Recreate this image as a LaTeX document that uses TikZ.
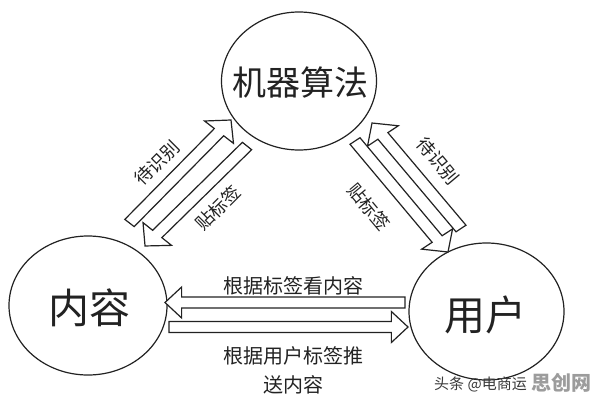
\documentclass[tikz,border=0pt]{standalone}
\usepackage{fontspec}
\setmainfont{Noto Sans CJK SC}
\usetikzlibrary{shapes.geometric}
\definecolor{ink}{HTML}{222222}
\definecolor{wmgray}{HTML}{9C9C9C}
\definecolor{wmdark}{HTML}{3A3A3A}
\newcommand\sx{1.13}
\newdimen\BAx \newdimen\BAy \newdimen\BBx \newdimen\BBy
% block arrow from coordinate #1 (tail) to coordinate #2 (tip), head half width #3
\newcommand\blockarrow[3]{%
  \pgfextractx{\BAx}{\pgfpointanchor{#1}{center}}%
  \pgfextracty{\BAy}{\pgfpointanchor{#1}{center}}%
  \pgfextractx{\BBx}{\pgfpointanchor{#2}{center}}%
  \pgfextracty{\BBy}{\pgfpointanchor{#2}{center}}%
  \pgfmathsetmacro\du{(\BBx-\BAx)/\sx}%
  \pgfmathsetmacro\dv{\BBy-\BAy}%
  \pgfmathsetmacro\ang{atan2(\dv,\du)}%
  \pgfmathsetmacro\len{veclen(\du,\dv)}%
  \pgfmathsetmacro\hl{0.95*#3}%
  \begin{scope}[shift={(#1)}, xscale=\sx, rotate=\ang]
    \draw[blockline] (0,-5.5) -- (\len-\hl,-5.5) -- (\len-\hl,-#3) -- (\len,0)
      -- (\len-\hl,#3) -- (\len-\hl,5.5) -- (0,5.5) -- cycle;
  \end{scope}}
\tikzset{
  bubble/.style={ellipse, draw=ink, line width=1.2pt, inner sep=0pt},
  blockline/.style={draw=ink, line width=1.2pt, fill=white, line join=miter},
  bigtext/.style={text=ink, inner sep=0pt},
  lbl/.style={text=ink, inner sep=0pt, font=\fontsize{18pt}{22pt}\selectfont},
  hlbl/.style={text=ink, inner sep=0pt, font=\fontsize{20pt}{29pt}\selectfont, align=center}
}
\begin{document}
\begin{tikzpicture}[x=1pt, y=-1pt]
\useasboundingbox[fill=white] (0,0) rectangle (596,402);
% circles
\node[bubble, minimum width=155pt, minimum height=138pt] (algo) at (299,81) {};
\node[bubble, minimum width=158pt, minimum height=139pt] (cont) at (88,305.5) {};
\node[bubble, minimum width=155pt, minimum height=137pt] (user) at (486.5,311.5) {};
\node[bigtext, font=\fontsize{34pt}{40pt}\selectfont] (algot) at (300,83) {机器算法};
\node[bigtext, font=\fontsize{41pt}{48pt}\selectfont] (contt) at (89,308) {内容};
\node[bigtext, font=\fontsize{41pt}{48pt}\selectfont] (usert) at (485,315) {用户};
% arrow end points
\coordinate (a1s) at (129.5,223);  \coordinate (a1e) at (231,120);
\coordinate (a2s) at (247,146);    \coordinate (a2e) at (145,246);
\coordinate (a3s) at (461,228.5);  \coordinate (a3e) at (372,123);
\coordinate (a4s) at (355,141);    \coordinate (a4e) at (448,252);
\coordinate (a5s) at (405,302.5);  \coordinate (a5e) at (165,302.5);
\coordinate (a6s) at (169,327);    \coordinate (a6e) at (408,327);
\blockarrow{a1s}{a1e}{17}
\blockarrow{a2s}{a2e}{17}
\blockarrow{a3s}{a3e}{17}
\blockarrow{a4s}{a4e}{17}
\blockarrow{a5s}{a5e}{15.5}
\blockarrow{a6s}{a6e}{15.5}
% labels
\node[lbl, rotate=45] (l1) at (157,163) {待识别};
\node[lbl, rotate=45] (l2) at (218,208) {贴标签};
\node[lbl, rotate=-50] (l3) at (438,161) {待识别};
\node[lbl, rotate=-50] (l4) at (369,207) {贴标签};
\node[hlbl] (l5) at (293,286) {根据标签看内容};
\node[hlbl] (l6) at (293,370.5) {根据用户标签推\\送内容};
% watermark
\node[text=wmdark, inner sep=0pt, font=\fontsize{15pt}{18pt}\selectfont] (wm1) at (480.5,384) {头条 @电商运};
\node[text=wmgray, inner sep=0pt, font=\bfseries\fontsize{20pt}{24pt}\selectfont] (wm2) at (561,383) {思创网};
\end{tikzpicture}
\end{document}
